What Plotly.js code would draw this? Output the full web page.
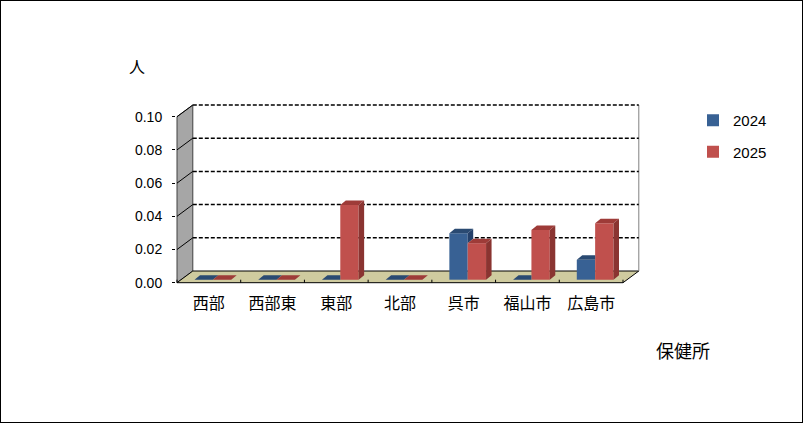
<!DOCTYPE html>
<html>
<head>
<meta charset="utf-8">
<script src="https://cdn.plot.ly/plotly-3.0.1.min.js"></script>
<style>
body { margin: 0; }
#chart { width: 801px; height: 421px; border: 1px solid #000; }
</style>
</head>
<body>
<div id="chart"></div>
<script>
// 保健所別の値
const cats = ['西部', '西部東', '東部', '北部', '呉市', '福山市', '広島市'];
const v2024 = [0, 0, 0, 0, 0.028, 0, 0.012];
const v2025 = [0, 0, 0.045, 0, 0.022, 0.030, 0.034];
const yTicks = [0, 0.02, 0.04, 0.06, 0.08, 0.10];

// pixel -> data unit helpers (front plane)
const PX = 63.714;   // px per category
const PY = 1660;     // px per 1.0 on y
const wx = 15.8 / PX, wy = 11.7 / PY;   // depth of the back wall
const bx = 4 / PX, by = 3 / PY;         // bars sit a bit behind the front edge
const ddx = 5.5 / PX, ddy = 4.5 / PY;   // depth of a bar
const bw = 0.288;

const blue = '#386194', red = '#c0504d';

const xs = cats.map((c, i) => i + bx);

let blueTop = {x: [], y: []}, blueSide = {x: [], y: []};
let redTop = {x: [], y: []}, redSide = {x: [], y: []};

function poly(o, pts) {
    pts.forEach(p => { o.x.push(p[0]); o.y.push(p[1]); });
    o.x.push(null); o.y.push(null);
}

cats.forEach((c, i) => {
    let x0 = i + bx - bw, x1 = i + bx, x2 = i + bx + bw;
    let vb = v2024[i] + by, vr = v2025[i] + by;
    // blue top, cut where the red bar is in front
    if (vb < vr) poly(blueTop, [[x0, vb], [x1, vb], [x1, vb + ddy], [x0 + ddx, vb + ddy]]);
    else poly(blueTop, [[x0, vb], [x1, vb], [x1 + ddx, vb + ddy], [x0 + ddx, vb + ddy]]);
    if (vb > vr) poly(blueSide, [[x1, vr], [x1, vb], [x1 + ddx, vb + ddy], [x1 + ddx, vr + ddy]]);
    poly(redTop, [[x1, vr], [x2, vr], [x2 + ddx, vr + ddy], [x1 + ddx, vr + ddy]]);
    poly(redSide, [[x2, by], [x2, vr], [x2 + ddx, vr + ddy], [x2 + ddx, by + ddy]]);
});

function face(o, col) {
    return {x: o.x, y: o.y, type: 'scatter', mode: 'lines', fill: 'toself',
        fillcolor: col, line: {width: 0, color: col}, showlegend: false, hoverinfo: 'skip'};
}

let data = [
    {x: xs, y: v2024, base: by, type: 'bar', name: '2024', width: bw, offset: -bw,
        marker: {color: blue}, legendgroup: 'a'},
    {x: xs, y: v2025, base: by, type: 'bar', name: '2025', width: bw, offset: 0,
        marker: {color: red}, legendgroup: 'b'},
    face(blueSide, '#24406a'),
    face(blueTop, '#2a4a72'),
    face(redTop, '#9e3b38'),
    face(redSide, '#8a3431')
];

// walls, floor and grid
let shapes = [];
shapes.push({type: 'path', xref: 'x', yref: 'y', layer: 'below',
    path: `M -0.5,0 L -0.5,0.1 L ${-0.5 + wx},${0.1 + wy} L ${-0.5 + wx},${wy} Z`,
    fillcolor: '#a6a6a6', line: {color: '#404040', width: 1}});
shapes.push({type: 'path', xref: 'x', yref: 'y', layer: 'below',
    path: `M -0.5,0 L 6.5,0 L ${6.5 + wx},${wy} L ${-0.5 + wx},${wy} Z`,
    fillcolor: '#cfcb9f', line: {color: '#000', width: 1}});
shapes.push({type: 'line', xref: 'x', yref: 'y', layer: 'below',
    x0: 6.5 + wx, x1: 6.5 + wx, y0: wy, y1: 0.1 + wy, line: {color: '#808080', width: 1}});
yTicks.slice(1).forEach(v => {
    shapes.push({type: 'line', xref: 'x', yref: 'y', layer: 'below',
        x0: -0.5 + wx, x1: 6.5 + wx, y0: v + wy, y1: v + wy, line: {color: '#000', width: 1.5, dash: '4px,2px'}});
    shapes.push({type: 'line', xref: 'x', yref: 'y', layer: 'below',
        x0: -0.5, x1: -0.5 + wx, y0: v, y1: v + wy, line: {color: '#000', width: 1}});
});
for (let k = 0; k <= 7; k++) {
    shapes.push({type: 'line', xref: 'x', yref: 'y', layer: 'below',
        x0: -0.5 + k, x1: -0.5 + k, y0: 0, y1: 3 / PY, line: {color: '#000', width: 1}});
}

const plotL = 175, plotW = 469, plotT = 99, plotH = 186;
const x0r = -0.5 - 1 / PX;
const y0r = -3.3 / PY;

let layout = {
    width: 801, height: 421,
    margin: {l: plotL, r: 801 - plotL - plotW, t: plotT, b: 421 - plotT - plotH, pad: 0},
    paper_bgcolor: '#fff', plot_bgcolor: 'rgba(0,0,0,0)',
    font: {family: 'Liberation Sans, Noto Sans CJK JP, sans-serif', color: '#000', size: 14},
    barmode: 'overlay',
    showlegend: true,
    legend: {xref: 'container', yref: 'container', x: 692 / 801, y: 1 - 103 / 421,
        xanchor: 'left', yanchor: 'top', traceorder: 'grouped', tracegroupgap: 9,
        font: {size: 15}, bgcolor: 'rgba(0,0,0,0)'},
    xaxis: {range: [x0r, x0r + plotW / PX], tickvals: cats.map((c, i) => i), ticktext: cats,
        showgrid: false, zeroline: false, showline: false, ticks: '', ticklabelstandoff: 6,
        tickfont: {size: 16, family: 'Noto Sans CJK JP, sans-serif'}, fixedrange: true},
    yaxis: {range: [y0r, y0r + plotH / PY], tickvals: yTicks, tickformat: '.2f',
        showgrid: false, zeroline: false, showline: false, ticks: 'outside', ticklen: 3,
        ticklabelstandoff: 7, tickcolor: '#000', tickfont: {size: 14}, fixedrange: true},
    shapes: shapes,
    annotations: [
        {text: '人', xref: 'paper', yref: 'paper', x: (136 - plotL) / plotW, y: (plotT + plotH - 65) / plotH,
            xanchor: 'center', yanchor: 'middle',
            showarrow: false, font: {size: 16, family: 'Noto Sans CJK JP, sans-serif'}},
        {text: '保健所', xref: 'paper', yref: 'paper', x: (682 - plotL) / plotW, y: (plotT + plotH - 349) / plotH,
            xanchor: 'center', yanchor: 'middle',
            showarrow: false, font: {size: 18, family: 'Noto Sans CJK JP, sans-serif'}}
    ]
};

graf = document.getElementById('chart');
Plotly.newPlot(graf, data, layout, {displayModeBar: false});
</script>
</body>
</html>
